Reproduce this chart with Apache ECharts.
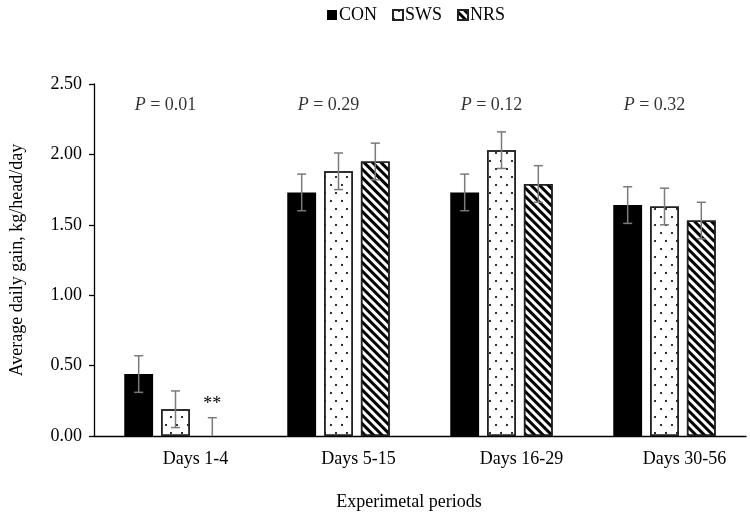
<!DOCTYPE html>
<html>
<head>
<meta charset="utf-8">
<script src="https://cdn.jsdelivr.net/npm/echarts@6/dist/echarts.min.js"></script>
<style>html,body{margin:0;padding:0;background:#fff}#c{width:750px;height:516px}</style>
</head>
<body>
<div id="c"></div>
<script>
const categories = ['Days 1-4', 'Days 5-15', 'Days 16-29', 'Days 30-56'];
const seriesNames = ['CON', 'SWS', 'NRS'];
const conValues = [0.44, 1.73, 1.73, 1.64];
const swsValues = [0.19, 1.88, 2.03, 1.63];
const nrsValues = [0.00, 1.95, 1.79, 1.53];
const conSE = [0.13, 0.13, 0.13, 0.13];
const swsSE = [0.13, 0.13, 0.13, 0.13];
const nrsSE = [0.13, 0.13, 0.13, 0.13];
const nrsNotes = ['**', '', '', ''];
const pValues = ['0.01', '0.29', '0.12', '0.32'];
const pLabelY = 2.35;
const yTicks = [0, 0.5, 1, 1.5, 2, 2.5];

const FONT = 'Liberation Serif';
const BAR_W = 0.177, GAP = 0.276;
const values = [conValues, swsValues, nrsValues];
const ses = [conSE, swsSE, nrsSE];
const notes = [[], [], nrsNotes];

const chart = echarts.init(document.getElementById('c'));

const styles = [
  {color: '#000', borderColor: '#000', borderWidth: 0},
  {color: '#fff', borderColor: '#222', borderWidth: 1.5,
   decal: {symbol: 'rect', symbolSize: 1, color: '#333',
           dashArrayX: [[1.5, 8.5], [0, 5, 1.5, 3.5]], dashArrayY: [1.5, 5.5], rotation: 0}},
  {color: '#fff', borderColor: '#222', borderWidth: 1.5,
   decal: {symbol: 'rect', symbolSize: 1, color: '#000',
           dashArrayX: [1, 0], dashArrayY: [2.9, 2.9], rotation: Math.PI / 4}}
];

const series = [];
seriesNames.forEach((n, k) => {
  series.push({
    name: n, type: 'bar',
    data: values[k].map(v => v === 0 ? {value: v, itemStyle: {borderWidth: 0}} : v),
    barWidth: (BAR_W * 100) + '%', barGap: (GAP * 100) + '%',
    itemStyle: styles[k]
  });
});
seriesNames.forEach((n, k) => {
  series.push({
    type: 'custom', silent: true, z: 10,
    data: categories.map((c, i) => [i, values[k][i], ses[k][i]]),
    encode: {x: 0, y: 1},
    renderItem: function (params, api) {
      const i = api.value(0), v = api.value(1), se = api.value(2);
      const band = api.size([1, 0])[0];
      const off = (k - 1) * band * BAR_W * (1 + GAP);
      const x = api.coord([i, v])[0] + off;
      const top = api.coord([i, v + se])[1];
      const bot = api.coord([i, Math.max(0, v - se)])[1];
      const cap = 4.5;
      const st = {stroke: '#7a7a7a', lineWidth: 1.5};
      const children = [
        {type: 'line', shape: {x1: x, y1: top, x2: x, y2: bot}, style: st},
        {type: 'line', shape: {x1: x - cap, y1: top, x2: x + cap, y2: top}, style: st}
      ];
      if (v - se > 0) children.push({type: 'line', shape: {x1: x - cap, y1: bot, x2: x + cap, y2: bot}, style: st});
      const note = notes[k][i];
      if (note) children.push({type: 'text', style: {text: note, x: x, y: top - 4, align: 'center', verticalAlign: 'bottom', font: '18px "' + FONT + '"', fill: '#000'}});
      return {type: 'group', children: children};
    }
  });
});
series.push({
  type: 'scatter', symbolSize: 0, silent: true,
  data: pValues.map((p, i) => [i, pLabelY]),
  label: {
    show: true, position: 'inside', offset: [-10, 0],
    formatter: (p) => '{i|P} = ' + pValues[p.dataIndex],
    fontFamily: FONT, fontSize: 18, color: '#000',
    rich: {i: {fontFamily: FONT, fontSize: 18, fontStyle: 'italic', color: '#000'}}
  }
});

chart.setOption({
  animation: false,
  textStyle: {fontFamily: FONT},
  legend: {
    data: seriesNames, top: 1, left: 322, itemWidth: 10, itemHeight: 10, itemGap: 15,
    textStyle: {fontFamily: FONT, fontSize: 18, color: '#000', padding: [0, 0, 0, -3]}, icon: 'rect'
  },
  grid: {left: 92, right: 4, top: 84, bottom: 77, containLabel: false},
  xAxis: {
    type: 'category', data: categories,
    axisLine: {lineStyle: {color: '#000', width: 1.3}},
    axisTick: {show: false},
    axisLabel: {color: '#000', fontFamily: FONT, fontSize: 18, margin: 14, padding: [0, 0, 0, 40]},
    name: 'Experimetal periods', nameLocation: 'middle', nameGap: 57,
    nameTextStyle: {color: '#000', fontFamily: FONT, fontSize: 18, padding: [0, 22, 0, 0]}
  },
  yAxis: {
    type: 'value', min: yTicks[0], max: yTicks[yTicks.length - 1], interval: yTicks[1] - yTicks[0],
    axisLine: {show: true, lineStyle: {color: '#000', width: 1.3}},
    axisTick: {show: true, inside: false, length: 5, lineStyle: {color: '#000', width: 1.3}},
    splitLine: {show: false},
    axisLabel: {color: '#000', fontFamily: FONT, fontSize: 18, margin: 12, formatter: v => v.toFixed(2)},
    name: 'Average daily gain, kg/head/day', nameLocation: 'middle', nameGap: 68, nameRotate: 90,
    nameTextStyle: {color: '#000', fontFamily: FONT, fontSize: 18}
  },
  series: series
});
</script>
</body>
</html>
